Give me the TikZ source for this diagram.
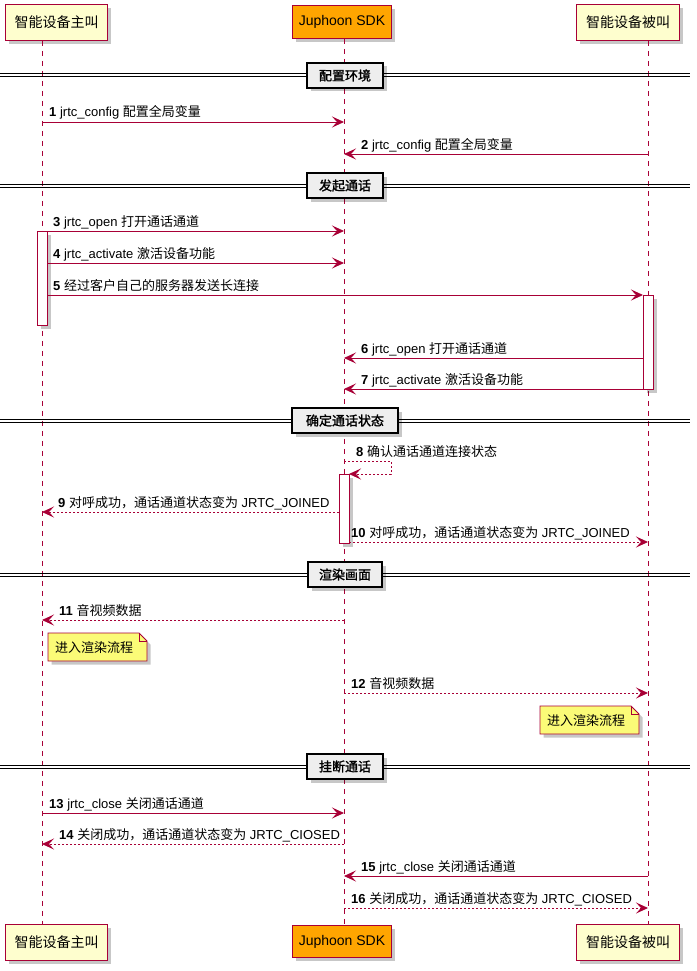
\documentclass[tikz,border=0pt]{standalone}
\usepackage{fontspec}
\setmainfont{Liberation Sans}
\newfontfamily\cjk[AutoFakeBold=1.5]{Noto Sans CJK SC}
\usetikzlibrary{arrows.meta,shadows}
\definecolor{pu}{HTML}{A80036}
\definecolor{pbox}{HTML}{FEFECE}
\definecolor{sdkfill}{HTML}{FFA500}
\definecolor{divfill}{HTML}{EEEEEE}
\definecolor{notefill}{HTML}{FBFB77}
\newcommand\zh[1]{{\cjk #1}}
\tikzset{
  shad/.style={drop shadow={shadow xshift=3.5pt, shadow yshift=-3.5pt, fill=black, opacity=0.22}},
  part/.style={draw=pu, line width=1.4pt, fill=pbox, shad, inner sep=0pt, font=\fontsize{14}{16}\selectfont},
  lifeline/.style={draw=pu, line width=0.8pt, dash pattern=on 5pt off 5pt},
  divline/.style={draw=black, line width=1pt},
  divbox/.style={draw=black, line width=1.6pt, fill=divfill, shad, inner sep=0pt, minimum height=25pt, font=\fontsize{13}{15}\selectfont\cjk\bfseries},
  actbox/.style={draw=pu, line width=1pt, fill=white, shad},
  solidmsg/.style={draw=pu, line width=0.9pt, -{Stealth[length=12pt,width=11pt,inset=5pt]}},
  dashmsg/.style={solidmsg, dash pattern=on 2pt off 2pt},
  msgtxt/.style={inner sep=0pt, anchor=base west, font=\fontsize{13}{15}\selectfont},
  notebox/.style={draw=pu, line width=0.8pt, fill=notefill, shad},
  notetxt/.style={inner sep=0pt, anchor=west, font=\fontsize{13}{15}\selectfont\cjk},
}
\begin{document}
\begin{tikzpicture}[x=1pt, y=-1pt]
\useasboundingbox (0,0) rectangle (696,971);
% lifeline x positions
\coordinate (A) at (42,0);
\coordinate (Ar) at (47,0);
\coordinate (B) at (344,0);
\coordinate (Bl) at (339,0);
\coordinate (Br) at (349,0);
\coordinate (C) at (648,0);
\coordinate (Cl) at (643,0);

% participants
\node[part, minimum width=101.5pt, minimum height=35.5pt] (Ltop) at (56.5,22.5) {\zh{智能设备主叫}};
\node[part, fill=sdkfill, minimum width=98.5pt, minimum height=32.5pt] (Btop) at (342,22) {Juphoon SDK};
\node[part, minimum width=102.5pt, minimum height=35.5pt] (Ctop) at (628,22.5) {\zh{智能设备被叫}};
\node[part, minimum width=101.5pt, minimum height=35.5pt] (Lbot) at (56.5,942.5) {\zh{智能设备主叫}};
\node[part, fill=sdkfill, minimum width=98.5pt, minimum height=32.5pt] (Bbot) at (342,941.5) {Juphoon SDK};
\node[part, minimum width=102.5pt, minimum height=35.5pt] (Cbot) at (628,942.5) {\zh{智能设备被叫}};

% lifelines
\draw[lifeline] (A |- Ltop.south) -- (A |- Lbot.north);
\draw[lifeline] (B |- Btop.south) -- (B |- Bbot.north);
\draw[lifeline] (C |- Ctop.south) -- (C |- Cbot.north);

% dividers
\foreach \yy/\w/\t/\nm in {75.5/76/配置环境/d1, 185.5/76/发起通话/d2, 420.5/106/确定通话状态/d3, 574.5/74/渲染画面/d4, 766.5/76/挂断通话/d5}{
  \draw[divline] (0,\yy-1.5) -- (690,\yy-1.5);
  \draw[divline] (0,\yy+1.5) -- (690,\yy+1.5);
  \node[divbox, minimum width=\w pt] (\nm) at (345,\yy) {\t};
}

% activations
\draw[actbox] (37,231) rectangle (47,325);
\draw[actbox] (643,295) rectangle (653,389);
\draw[actbox] (339,474) rectangle (349,543);

% messages
\draw[solidmsg] (A |- 0,122) -- (B |- 0,122);
\node[msgtxt] (t1) at (49,117) {\textbf{1} jrtc\_config \zh{配置全局变量}};
\draw[solidmsg] (C |- 0,154) -- (B |- 0,154);
\node[msgtxt] (t2) at (361,149) {\textbf{2} jrtc\_config \zh{配置全局变量}};
\draw[solidmsg] (A |- 0,231) -- (B |- 0,231);
\node[msgtxt] (t3) at (53,226) {\textbf{3} jrtc\_open \zh{打开通话通道}};
\draw[solidmsg] (Ar |- 0,263) -- (B |- 0,263);
\node[msgtxt] (t4) at (53,258) {\textbf{4} jrtc\_activate \zh{激活设备功能}};
\draw[solidmsg] (Ar |- 0,295) -- (Cl |- 0,295);
\node[msgtxt] (t5) at (53,290) {\textbf{5} \zh{经过客户自己的服务器发送长连接}};
\draw[solidmsg] (Cl |- 0,358) -- (B |- 0,358);
\node[msgtxt] (t6) at (361,353) {\textbf{6} jrtc\_open \zh{打开通话通道}};
\draw[solidmsg] (Cl |- 0,389) -- (B |- 0,389);
\node[msgtxt] (t7) at (361,384) {\textbf{7} jrtc\_activate \zh{激活设备功能}};
\draw[dashmsg] (B |- 0,461) -- (391,461) -- (391,474) -- (Br |- 0,474);
\node[msgtxt] (t8) at (356,456) {\textbf{8} \zh{确认通话通道连接状态}};
\draw[dashmsg] (Bl |- 0,512) -- (A |- 0,512);
\node[msgtxt] (t9) at (58,507) {\textbf{9} \zh{对呼成功，通话通道状态变为} JRTC\_JOINED};
\draw[dashmsg] (Br |- 0,542) -- (C |- 0,542);
\node[msgtxt] (t10) at (351,537) {\textbf{10} \zh{对呼成功，通话通道状态变为} JRTC\_JOINED};
\draw[dashmsg] (B |- 0,620) -- (A |- 0,620);
\node[msgtxt] (t11) at (59,615) {\textbf{11} \zh{音视频数据}};
\draw[dashmsg] (B |- 0,693) -- (C |- 0,693);
\node[msgtxt] (t12) at (351,688) {\textbf{12} \zh{音视频数据}};
\draw[solidmsg] (A |- 0,813) -- (B |- 0,813);
\node[msgtxt] (t13) at (49,808) {\textbf{13} jrtc\_close \zh{关闭通话通道}};
\draw[dashmsg] (B |- 0,844) -- (A |- 0,844);
\node[msgtxt] (t14) at (59,839) {\textbf{14} \zh{关闭成功，通话通道状态变为} JRTC\_CIOSED};
\draw[solidmsg] (C |- 0,876) -- (B |- 0,876);
\node[msgtxt] (t15) at (361,871) {\textbf{15} jrtc\_close \zh{关闭通话通道}};
\draw[dashmsg] (B |- 0,908) -- (C |- 0,908);
\node[msgtxt] (t16) at (351,903) {\textbf{16} \zh{关闭成功，通话通道状态变为} JRTC\_CIOSED};

% notes
\draw[notebox] (48,633) -- (139,633) -- (147,641) -- (147,661) -- (48,661) -- cycle;
\draw[draw=pu, line width=0.8pt] (139,633) -- (139,641) -- (147,641);
\node[notetxt] (n1) at (55,648) {进入渲染流程};
\draw[notebox] (540,706) -- (631,706) -- (639,714) -- (639,734) -- (540,734) -- cycle;
\draw[draw=pu, line width=0.8pt] (631,706) -- (631,714) -- (639,714);
\node[notetxt] (n2) at (547,721) {进入渲染流程};
\end{tikzpicture}
\end{document}
